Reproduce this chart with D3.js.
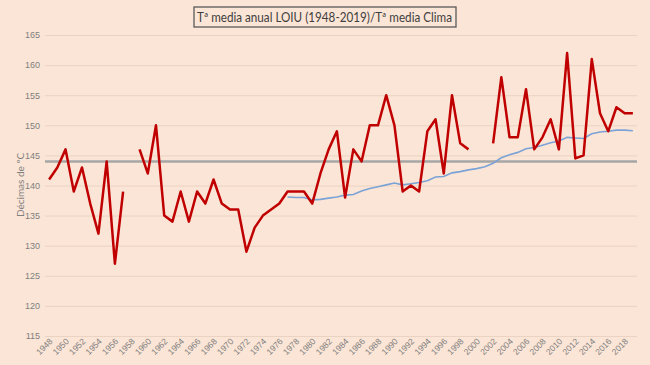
<!DOCTYPE html>
<html><head><meta charset="utf-8">
<script src="https://cdn.jsdelivr.net/npm/d3@7"></script>
<style>
body{margin:0;background:#FBE5D6;}
svg{display:block;font-family:Lato,"Open Sans",sans-serif;}
</style></head>
<body>
<script>
const years = d3.range(1948, 2020);
const tickYears = d3.range(1948, 2020, 2);
const yTicks = [115,120,125,130,135,140,145,150,155,160,165];
const annual = [141,143,146,139,143,137,132,144,127,139,null,146,142,150,135,134,139,134,139,137,141,137,136,136,
  129,133,135,136,137,139,139,139,137,142,146,149,138,146,144,150,150,155,150,139,140,139,149,151,142,155,147,146,
  null,null,147,158,148,148,156,146,148,151,146,162,144.5,145,161,152,149,153,152,152];
const climaStart = 1977;
const clima = [138.1,138.0,138.0,137.6,137.7,137.9,138.1,138.4,138.5,139.1,139.5,139.8,140.1,140.4,140.1,140.3,
  140.5,140.8,141.4,141.5,142.1,142.3,142.6,142.8,143.1,143.7,144.6,145.1,145.5,146.1,146.3,146.7,147.1,147.4,
  148.0,147.9,147.8,148.6,148.9,149.0,149.2,149.2,149.1];
const climateMean = 144;
const title = "Tª media anual LOIU (1948-2019)/Tª media Clima";
const yLabel = "Décimas de ºC";

const W = 650, H = 365;
const svg = d3.select("body").append("svg").attr("width", W).attr("height", H);
svg.append("rect").attr("width", W).attr("height", H).attr("fill", "#FBE5D6");

const x = d3.scaleBand().domain(years).range([45, 637]);
const xc = yr => x(yr) + x.bandwidth() / 2;
const y = d3.scaleLinear().domain([115, 165]).range([336, 35]);

// gridlines
const yAxis = d3.axisLeft(y).tickValues(yTicks).tickSize(-(637 - 45)).tickPadding(5);
const gy = svg.append("g").attr("transform", "translate(45,0)").call(yAxis);
gy.select(".domain").remove();
gy.selectAll(".tick line").attr("stroke", "#EBD3C3").attr("stroke-width", 1);
gy.selectAll(".tick text").attr("fill", "#7F7F7F").attr("font-size", 9);

// x axis labels
const xAxis = d3.axisBottom(x).tickValues(tickYears).tickSize(0).tickPadding(0);
const gx = svg.append("g").attr("transform", "translate(0,336)").call(xAxis);
gx.select(".domain").remove();
gx.selectAll(".tick text")
  .attr("fill", "#7F7F7F").attr("font-size", 8.5)
  .attr("text-anchor", "end")
  .attr("dy", 0).attr("y", 0)
  .attr("transform", "translate(4,6) rotate(-45)");

// climate mean line
svg.append("line")
  .attr("x1", 45).attr("x2", 637)
  .attr("y1", y(climateMean)).attr("y2", y(climateMean))
  .attr("stroke", "#A6A6A6").attr("stroke-width", 2.5);

// clima (blue)
const climaData = clima.map((v, i) => ({yr: climaStart + i, v}));
svg.append("path").datum(climaData)
  .attr("fill", "none").attr("stroke", "#7BA3D6").attr("stroke-width", 1.6)
  .attr("d", d3.line().x(d => xc(d.yr)).y(d => y(d.v)));

// annual (red)
const annualData = annual.map((v, i) => ({yr: years[i], v}));
svg.append("path").datum(annualData)
  .attr("fill", "none").attr("stroke", "#C00000").attr("stroke-width", 2.5)
  .attr("stroke-linejoin", "round")
  .attr("d", d3.line().defined(d => d.v != null).x(d => xc(d.yr)).y(d => y(d.v)));

// y label
svg.append("text")
  .attr("transform", "translate(24,185) rotate(-90)")
  .attr("text-anchor", "middle").attr("fill", "#7F7F7F").attr("font-size", 10)
  .text(yLabel);

// title box
svg.append("rect")
  .attr("x", 194).attr("y", 7).attr("width", 262).attr("height", 20)
  .attr("fill", "#FBE5D6").attr("stroke", "#595959").attr("stroke-width", 1.3);
svg.append("text")
  .attr("x", 197).attr("y", 21.5)
  .attr("fill", "#404040").attr("font-size", 12.5)
  .attr("textLength", 255).attr("lengthAdjust", "spacingAndGlyphs")
  .text(title);
</script>
</body></html>
